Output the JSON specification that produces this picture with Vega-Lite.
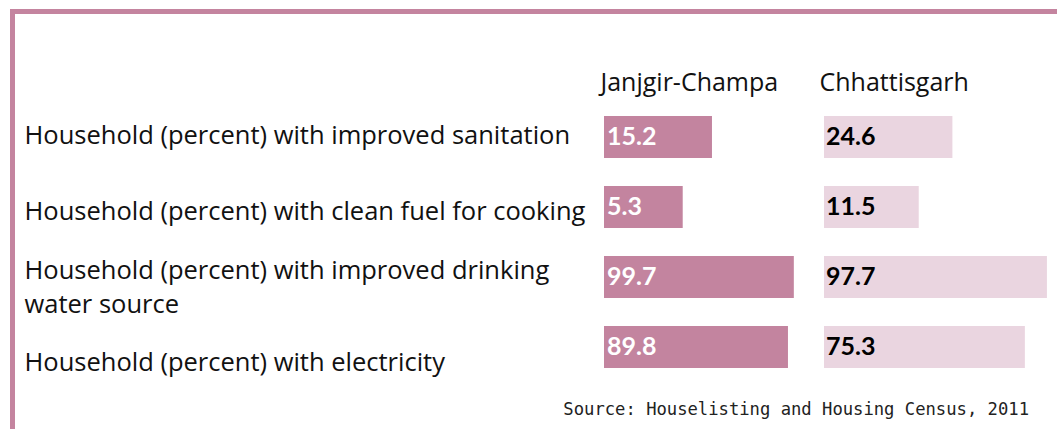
{
  "$schema": "https://vega.github.io/schema/vega-lite/v6.json",
  "width": 1057,
  "height": 429,
  "autosize": {"type": "fit", "contains": "padding"},
  "padding": {"left": 12.5, "top": 11.5, "right": -10, "bottom": -10},
  "background": "white",
  "config": {
    "view": {"stroke": "#c4849f", "strokeWidth": 5},
    "font": "Open Sans"
  },
  "title": {
    "text": "Source: Houselisting and Housing Census, 2011",
    "orient": "bottom",
    "anchor": "end",
    "baseline": "alphabetic",
    "offset": -24,
    "dx": -38,
    "font": "DejaVu Sans Mono",
    "fontSize": 17.2,
    "fontWeight": "normal",
    "color": "#222"
  },
  "data": {
    "values": [
      {"indicator": "Household (percent) with improved sanitation", "region": "Janjgir-Champa", "value": 15.2},
      {"indicator": "Household (percent) with clean fuel for cooking", "region": "Janjgir-Champa", "value": 5.3},
      {"indicator": "Household (percent) with improved drinking water source", "region": "Janjgir-Champa", "value": 99.7},
      {"indicator": "Household (percent) with electricity", "region": "Janjgir-Champa", "value": 89.8},
      {"indicator": "Household (percent) with improved sanitation", "region": "Chhattisgarh", "value": 24.6},
      {"indicator": "Household (percent) with clean fuel for cooking", "region": "Chhattisgarh", "value": 11.5},
      {"indicator": "Household (percent) with improved drinking water source", "region": "Chhattisgarh", "value": 97.7},
      {"indicator": "Household (percent) with electricity", "region": "Chhattisgarh", "value": 75.3}
    ]
  },
  "encoding": {
    "y": {
      "field": "indicator",
      "type": "nominal",
      "sort": [
        "Household (percent) with improved sanitation",
        "Household (percent) with clean fuel for cooking",
        "Household (percent) with improved drinking water source",
        "Household (percent) with electricity"
      ],
      "scale": {"type": "band", "range": [90.5, 370.5], "paddingInner": 0.4, "paddingOuter": 0.2},
      "axis": null
    }
  },
  "layer": [
    {
      "transform": [{"filter": "datum.region === 'Janjgir-Champa'"}],
      "mark": {"type": "text", "text": ""},
      "encoding": {
        "y": {
          "field": "indicator",
          "type": "nominal",
          "sort": [
            "Household (percent) with improved sanitation",
            "Household (percent) with clean fuel for cooking",
            "Household (percent) with improved drinking water source",
            "Household (percent) with electricity"
          ],
          "scale": {"type": "band", "range": [86.4, 389.6], "paddingInner": 0, "paddingOuter": 0},
          "axis": {
            "orient": "left",
            "title": null,
            "domain": false,
            "ticks": false,
            "grid": false,
            "labelAlign": "left",
            "labelPadding": -11.5,
            "labelBaseline": "middle",
            "labelOffset": {"condition": {"test": "datum.value == 'Household (percent) with improved drinking water source'", "value": -16}, "value": 0},
            "labelLineHeight": 34,
            "labelFont": "Open Sans",
            "labelFontSize": 25.5,
            "labelColor": "#111",
            "labelLimit": 0,
            "labelExpr": "datum.label == 'Household (percent) with improved drinking water source' ? ['Household (percent) with improved drinking', 'water source'] : datum.label"
          }
        }
      }
    },
    {
      "transform": [{"filter": "datum.region === 'Janjgir-Champa'"}],
      "layer": [
        {
          "mark": {"type": "bar", "color": "#c3849f"},
          "encoding": {
            "x": {
              "field": "value",
              "type": "quantitative",
              "scale": {"type": "pow", "exponent": 0.3, "domain": [0, 100], "range": [591.5, 781.5]},
              "axis": {"orient": "top", "title": "Janjgir-Champa", "domain": false, "ticks": false, "labels": false, "grid": false, "titleAlign": "left", "titleAnchor": "start", "titleX": 587.5, "titleY": 78.5, "titleBaseline": "alphabetic", "titleFont": "Open Sans", "titleFontSize": 25, "titleFontWeight": "normal", "titleColor": "#111"}
            }
          }
        },
        {
          "mark": {"type": "text", "align": "left", "baseline": "middle", "dx": 3, "color": "white", "fontWeight": "bold", "fontSize": 25, "font": "Lato"},
          "encoding": {
            "x": {"datum": 0, "type": "quantitative", "axis": {"orient": "top", "title": "Janjgir-Champa", "domain": false, "ticks": false, "labels": false, "grid": false, "titleAlign": "left", "titleAnchor": "start", "titleX": 587.5, "titleY": 78.5, "titleBaseline": "alphabetic", "titleFont": "Open Sans", "titleFontSize": 25, "titleFontWeight": "normal", "titleColor": "#111"}},
            "text": {"field": "value", "type": "quantitative", "format": ".1f"}
          }
        }
      ]
    },
    {
      "transform": [{"filter": "datum.region === 'Chhattisgarh'"}],
      "layer": [
        {
          "mark": {"type": "bar", "color": "#ead5e0"},
          "encoding": {
            "x": {
              "field": "value",
              "type": "quantitative",
              "scale": {"type": "pow", "exponent": 0.4, "domain": [0, 100], "range": [811.5, 1036.5]},
              "axis": {"orient": "top", "title": "Chhattisgarh", "domain": false, "ticks": false, "labels": false, "grid": false, "titleAlign": "left", "titleAnchor": "start", "titleX": 806.5, "titleY": 78.5, "titleBaseline": "alphabetic", "titleFont": "Open Sans", "titleFontSize": 25, "titleFontWeight": "normal", "titleColor": "#111"}
            }
          }
        },
        {
          "mark": {"type": "text", "align": "left", "baseline": "middle", "dx": 2, "color": "#000", "fontWeight": "bold", "fontSize": 25, "font": "Lato"},
          "encoding": {
            "x": {"datum": 0, "type": "quantitative", "axis": {"orient": "top", "title": "Chhattisgarh", "domain": false, "ticks": false, "labels": false, "grid": false, "titleAlign": "left", "titleAnchor": "start", "titleX": 806.5, "titleY": 78.5, "titleBaseline": "alphabetic", "titleFont": "Open Sans", "titleFontSize": 25, "titleFontWeight": "normal", "titleColor": "#111"}},
            "text": {"field": "value", "type": "quantitative", "format": ".1f"}
          }
        }
      ]
    }
  ],
  "resolve": {"scale": {"x": "independent", "y": "independent"}, "axis": {"x": "independent", "y": "independent"}}
}
